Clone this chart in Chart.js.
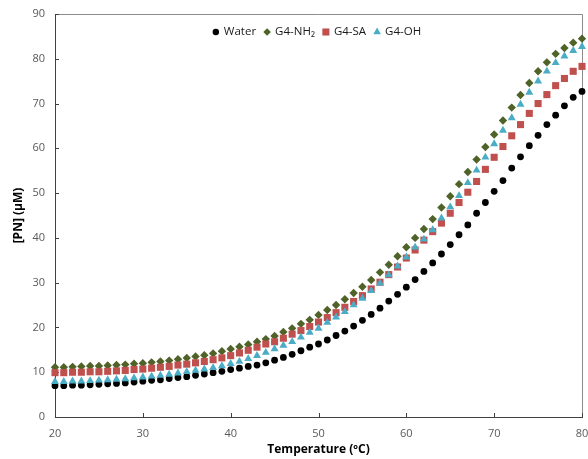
<!DOCTYPE html>
<html><head><meta charset="utf-8">
<script src="https://cdn.jsdelivr.net/npm/chart.js@4.4.0/dist/chart.umd.min.js"></script>
<style>html,body{margin:0;padding:0;background:#fff}#wrap{width:588px;height:459px}</style>
</head><body><div id="wrap"><canvas id="c" width="588" height="459"></canvas></div>
<script>
const temperatures = [20,21,22,23,24,25,26,27,28,29,30,31,32,33,34,35,36,37,38,39,40,41,42,43,44,45,46,47,48,49,50,51,52,53,54,55,56,57,58,59,60,61,62,63,64,65,66,67,68,69,70,71,72,73,74,75,76,77,78,79,80];
const water = [7.0,7.0,7.1,7.1,7.2,7.3,7.4,7.5,7.6,7.8,8.0,8.2,8.3,8.6,8.8,9.0,9.3,9.6,9.9,10.2,10.6,10.9,11.3,11.6,12.1,12.7,13.3,14.0,14.8,15.6,16.3,17.2,18.2,19.2,20.3,21.6,22.9,24.3,25.9,27.4,29.0,30.7,32.5,34.4,36.4,38.5,40.7,42.9,45.5,47.9,50.4,52.8,55.6,58.1,60.6,62.9,65.3,67.4,69.5,71.4,72.7];
const g4nh2 = [11.1,11.1,11.2,11.3,11.4,11.4,11.5,11.6,11.7,11.9,12.0,12.2,12.4,12.6,12.9,13.2,13.5,13.8,14.2,14.7,15.2,15.7,16.2,16.8,17.4,18.1,19.0,19.8,20.8,21.7,22.8,23.9,25.0,26.3,27.7,29.1,30.6,32.3,34.0,35.9,37.9,40.0,42.0,44.2,46.8,49.3,52.0,54.7,57.5,60.3,63.1,66.2,69.1,71.9,74.6,77.2,79.2,81.1,82.4,83.6,84.5];
const g4sa = [9.9,9.9,10.0,10.0,10.1,10.1,10.2,10.3,10.4,10.6,10.7,10.9,11.1,11.3,11.6,11.8,12.1,12.4,12.8,13.2,13.7,14.3,14.9,15.6,16.3,16.8,17.6,18.5,19.3,20.2,21.2,22.2,23.3,24.5,25.8,27.1,28.6,30.1,31.8,33.5,35.5,37.3,39.5,41.4,43.3,45.5,47.9,50.2,52.6,55.3,58.0,60.4,62.8,65.3,67.8,70.0,72.0,74.0,75.6,77.2,78.3];
const g4oh = [7.9,7.9,8.0,8.0,8.1,8.2,8.3,8.4,8.5,8.7,8.9,9.1,9.3,9.5,9.8,10.1,10.4,10.7,11.0,11.4,11.9,12.4,13.0,13.7,14.4,15.2,16.0,16.8,17.8,18.9,19.8,21.1,22.3,23.5,25.0,26.5,28.2,29.9,31.7,33.7,35.7,37.9,39.7,41.8,44.4,46.9,49.4,52.3,55.1,58.0,61.0,64.0,66.8,69.8,72.5,75.0,77.2,79.1,80.6,81.8,82.7];
const seriesNames = ['Water','G4-NH₂','G4-SA','G4-OH'];
const xTicks = [20,30,40,50,60,70,80];
const yTicks = [0,10,20,30,40,50,60,70,80,90];
const xTitle = 'Temperature (ºC)';
const yTitle = '[PN] (µM)';

const styles = [
  {color:'#000000', pointStyle:'circle', radius:3.4, lr:3.2},
  {color:'#4F6228', pointStyle:'rectRot', radius:4.2, lr:3.8},
  {color:'#C0504D', pointStyle:'rect', radius:5, lr:5},
  {color:'#4BACC6', pointStyle:'triangle', radius:4.6, lr:4.4}
];
const values = [water, g4nh2, g4sa, g4oh];

const datasets = values.map((arr,i)=>({
  label: seriesNames[i],
  data: temperatures.map((t,k)=>({x:t, y:arr[k]})),
  showLine:false,
  pointStyle: styles[i].pointStyle,
  pointRadius: styles[i].radius,
  backgroundColor: styles[i].color,
  borderColor: styles[i].color,
  pointBorderWidth: 0,
  clip: false,
  order: 4 - i
}));

const framePlugin = {
  id:'frame',
  beforeDatasetsDraw(chart){
    const {ctx, chartArea:ca, scales} = chart;
    ctx.save();
    ctx.lineWidth = 1;
    ctx.strokeStyle = '#8c8c8c';
    ctx.beginPath();
    ctx.moveTo(ca.left, ca.top+0.5); ctx.lineTo(ca.right+0.5, ca.top+0.5); ctx.lineTo(ca.right+0.5, ca.bottom);
    ctx.stroke();
    ctx.strokeStyle = '#404040';
    ctx.beginPath();
    scales.x.ticks.forEach(t=>{
      const px = Math.round(scales.x.getPixelForValue(t.value))+0.5;
      ctx.moveTo(px, ca.bottom); ctx.lineTo(px, ca.bottom-4);
    });
    scales.y.ticks.forEach(t=>{
      const py = Math.round(scales.y.getPixelForValue(t.value))+0.5;
      ctx.moveTo(ca.left, py); ctx.lineTo(ca.left+4, py);
    });
    ctx.stroke();
    ctx.restore();
  }
};

const legendPlugin = {
  id:'insideLegend',
  afterDraw(chart){
    const {ctx, chartArea:ca} = chart;
    const y = ca.top + 18;
    ctx.save();
    ctx.font = '11.5px "Open Sans", sans-serif';
    ctx.textBaseline = 'middle';
    const markerToText = 8, textToNext = 11;
    const widths = seriesNames.map(n=>ctx.measureText(n).width);
    let total = 0;
    widths.forEach((w,i)=>{ total += markerToText + w + (i<3 ? textToNext : 0); });
    let x = (ca.left + ca.right)/2 - total/2;
    seriesNames.forEach((n,i)=>{
      ctx.fillStyle = styles[i].color; ctx.strokeStyle = styles[i].color;
      Chart.helpers.drawPoint(ctx, {pointStyle:styles[i].pointStyle, radius:styles[i].lr, rotation:0, borderWidth:0}, x, y);
      ctx.fillStyle = '#1a1a1a';
      ctx.fillText(n, x + markerToText, y);
      x += markerToText + widths[i] + textToNext;
    });
    ctx.restore();
  }
};

new Chart(document.getElementById('c'), {
  type:'scatter',
  data:{datasets},
  options:{
    responsive:false,
    animation:false,
    events:[],
    layout:{padding:{top:14, right:6, left:0, bottom:0}},
    plugins:{legend:{display:false}, tooltip:{enabled:false}},
    scales:{
      x:{
        type:'linear', min:20, max:80,
        afterBuildTicks(s){ s.ticks = xTicks.map(v=>({value:v})); },
        ticks:{font:{family:'"Open Sans", sans-serif', size:11}, color:'#595959', padding:10, maxRotation:0},
        grid:{display:false, drawTicks:false},
        border:{display:true, color:'#404040', width:1},
        title:{display:true, text:xTitle, font:{family:'"Open Sans", sans-serif', size:12, weight:'bold'}, color:'#000', padding:{top:0,bottom:2}},
        afterFit(s){ s.height = 42; s.paddingRight = 0; s.paddingLeft = 0; }
      },
      y:{
        type:'linear', min:0, max:90,
        afterBuildTicks(s){ s.ticks = yTicks.map(v=>({value:v})); },
        ticks:{font:{family:'"Open Sans", sans-serif', size:11}, color:'#595959', padding:10},
        grid:{display:false, drawTicks:false},
        border:{display:true, color:'#404040', width:1},
        title:{display:true, text:yTitle, font:{family:'"Open Sans", sans-serif', size:12, weight:'bold'}, color:'#000', padding:{top:11,bottom:0}},
        afterFit(s){ s.width = 55; s.paddingTop = 0; s.paddingBottom = 0; }
      }
    }
  },
  plugins:[framePlugin, legendPlugin]
});
</script></body></html>
